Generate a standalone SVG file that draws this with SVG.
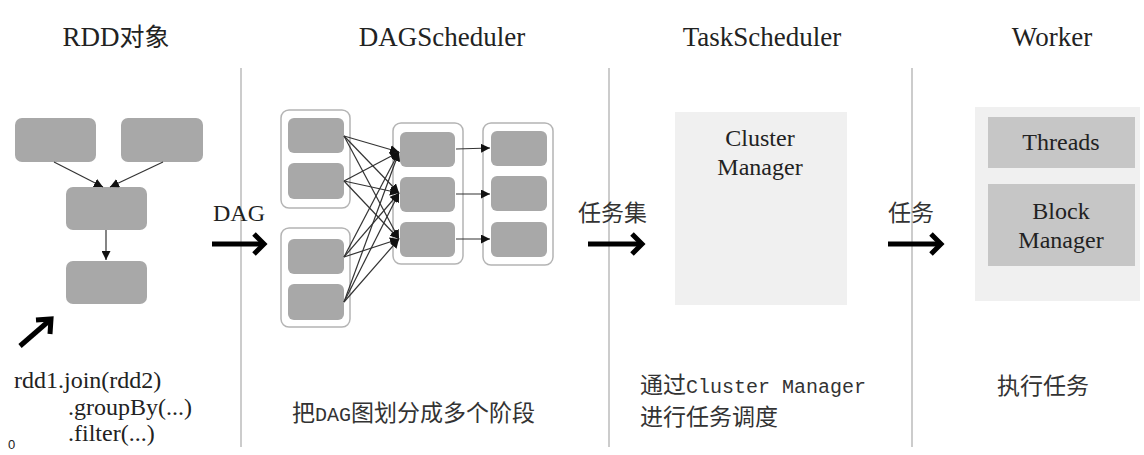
<svg xmlns="http://www.w3.org/2000/svg" width="1144" height="455" viewBox="0 0 1144 455">
<style>
.bg{fill:#ffffff}
.hdr{font-family:"Liberation Serif","Tinos","Times New Roman","DejaVu Serif",serif;font-size:27px;fill:#222;text-anchor:middle}
.hz{font-family:"Noto Sans CJK SC",sans-serif;font-size:25px}
.lbl{font-family:"Liberation Serif","Tinos","Times New Roman","DejaVu Serif",serif;font-size:24px;fill:#222}
.cjk{font-family:"Noto Sans CJK SC",sans-serif;font-size:23px;fill:#333}
.mono{font-family:"Liberation Mono","DejaVu Sans Mono",monospace;font-size:20px}
.div{stroke:#cccccc;stroke-width:2}
.rdd{fill:#a8a8a8}
.stage{fill:#ffffff;stroke:#b4b4b4;stroke-width:1.5}
.task{fill:#a8a8a8}
.edge{stroke:#333;stroke-width:1.2;fill:none}
.big{stroke:#000;stroke-width:5;fill:none;stroke-linecap:butt}
.chev{stroke:#000;stroke-width:5;fill:none;stroke-linejoin:miter}
.panel{fill:#f0f0f0}
.wbox{fill:#c6c6c6}
</style>
<defs>
<marker id="ah" viewBox="0 0 10 10" refX="10" refY="5" markerWidth="9" markerHeight="9" markerUnits="userSpaceOnUse" orient="auto">
<path d="M0,0 L10,5 L0,10 z" fill="#111"/>
</marker>
</defs>
<rect class="bg" x="0" y="0" width="1144" height="455"/>

<g id="dividers">
<line class="div" x1="241" y1="68" x2="241" y2="447"/>
<line class="div" x1="609" y1="68" x2="609" y2="447"/>
<line class="div" x1="912" y1="68" x2="912" y2="447"/>
</g>

<g id="headers">
<text class="hdr" x="116" y="46">RDD<tspan class="hz">对象</tspan></text>
<text class="hdr" x="442" y="46">DAGScheduler</text>
<text class="hdr" x="762" y="46">TaskScheduler</text>
<text class="hdr" x="1052" y="46">Worker</text>
</g>

<g id="rdd-objects">
<g id="rdd1"><rect class="rdd" x="15" y="118" width="81" height="44" rx="7"/></g>
<g id="rdd2"><rect class="rdd" x="121" y="118" width="82" height="44" rx="7"/></g>
<g id="rdd3"><rect class="rdd" x="66" y="187" width="81" height="43" rx="7"/></g>
<g id="rdd4"><rect class="rdd" x="66" y="261" width="81" height="43" rx="7"/></g>
</g>

<g id="code">
<text class="lbl" x="14" y="388">rdd1.join(rdd2)</text>
<text class="lbl" x="68" y="415">.groupBy(...)</text>
<text class="lbl" x="68" y="441">.filter(...)</text>
<text x="8" y="449" style="font-family:'Liberation Sans',sans-serif;font-size:13px;fill:#222">0</text>
</g>

<g id="dag-stages">
<g id="stage-a">
<rect class="stage" x="281" y="110" width="69" height="98" rx="8"/>
<rect class="task" x="288" y="118" width="56" height="35" rx="6"/>
<rect class="task" x="288" y="163" width="56" height="36" rx="6"/>
</g>
<g id="stage-b">
<rect class="stage" x="281" y="228" width="69" height="99" rx="8"/>
<rect class="task" x="288" y="239" width="56" height="35" rx="6"/>
<rect class="task" x="288" y="284" width="56" height="36" rx="6"/>
</g>
<g id="stage-c">
<rect class="stage" x="393" y="123" width="70" height="141" rx="8"/>
<rect class="task" x="400" y="132" width="55" height="35" rx="6"/>
<rect class="task" x="400" y="177" width="55" height="35" rx="6"/>
<rect class="task" x="400" y="222" width="55" height="35" rx="6"/>
</g>
<g id="stage-d">
<rect class="stage" x="483" y="123" width="70" height="142" rx="8"/>
<rect class="task" x="491" y="131" width="56" height="35" rx="6"/>
<rect class="task" x="491" y="176" width="56" height="35" rx="6"/>
<rect class="task" x="491" y="222" width="56" height="35" rx="6"/>
</g>
</g>

<g id="cluster-manager">
<rect class="panel" x="675" y="112" width="172" height="193"/>
<text class="lbl" x="760" y="146" text-anchor="middle">Cluster</text>
<text class="lbl" x="760" y="175" text-anchor="middle">Manager</text>
</g>

<g id="worker">
<rect class="panel" x="975" y="107" width="165" height="194"/>
<g id="threads">
<rect class="wbox" x="988" y="117" width="147" height="51"/>
<text class="lbl" x="1061" y="150" text-anchor="middle">Threads</text>
</g>
<g id="block-manager">
<rect class="wbox" x="988" y="184" width="147" height="82"/>
<text class="lbl" x="1061" y="219" text-anchor="middle">Block</text>
<text class="lbl" x="1061" y="248" text-anchor="middle">Manager</text>
</g>
</g>

<g id="connectors">
<line class="edge" x1="54" y1="162" x2="103" y2="187" marker-end="url(#ah)"/>
<line class="edge" x1="163" y1="162" x2="110" y2="187" marker-end="url(#ah)"/>
<line class="edge" x1="106" y1="230" x2="106" y2="260" marker-end="url(#ah)"/>

<line class="edge" x1="344" y1="136" x2="399" y2="152" marker-end="url(#ah)"/>
<line class="edge" x1="344" y1="136" x2="399" y2="193" marker-end="url(#ah)"/>
<line class="edge" x1="344" y1="136" x2="399" y2="239" marker-end="url(#ah)"/>
<line class="edge" x1="344" y1="181" x2="399" y2="152" marker-end="url(#ah)"/>
<line class="edge" x1="344" y1="181" x2="399" y2="193" marker-end="url(#ah)"/>
<line class="edge" x1="344" y1="181" x2="399" y2="239" marker-end="url(#ah)"/>
<line class="edge" x1="344" y1="257" x2="399" y2="152" marker-end="url(#ah)"/>
<line class="edge" x1="344" y1="257" x2="399" y2="193" marker-end="url(#ah)"/>
<line class="edge" x1="344" y1="257" x2="399" y2="239" marker-end="url(#ah)"/>
<line class="edge" x1="344" y1="302" x2="399" y2="152" marker-end="url(#ah)"/>
<line class="edge" x1="344" y1="302" x2="399" y2="193" marker-end="url(#ah)"/>
<line class="edge" x1="344" y1="302" x2="399" y2="239" marker-end="url(#ah)"/>

<line class="edge" x1="456" y1="149" x2="490" y2="148" marker-end="url(#ah)"/>
<line class="edge" x1="456" y1="194" x2="490" y2="194" marker-end="url(#ah)"/>
<line class="edge" x1="456" y1="239" x2="490" y2="239" marker-end="url(#ah)"/>

<g id="flow-arrows">
<line class="big" x1="20" y1="346" x2="50" y2="320"/>
<polyline class="chev" points="36,320 51,319 50,334"/>

<line class="big" x1="212" y1="244" x2="262" y2="244"/>
<polyline class="chev" points="254,234 264,244 254,254"/>

<line class="big" x1="588" y1="244" x2="640" y2="244"/>
<polyline class="chev" points="632,234 642,244 632,254"/>

<line class="big" x1="888" y1="244" x2="939" y2="244"/>
<polyline class="chev" points="931,234 941,244 931,254"/>
</g>
</g>

<g id="arrow-labels">
<text class="lbl" x="213" y="221">DAG</text>
<text class="cjk" x="578" y="221">任务集</text>
<text class="cjk" x="888" y="221">任务</text>
</g>

<g id="captions">
<text class="cjk" x="292" y="421" font-size="24">把<tspan class="mono">DAG</tspan>图划分成多个阶段</text>
<text class="cjk" x="640" y="393" font-size="21">通过<tspan class="mono">Cluster Manager</tspan></text>
<text class="cjk" x="640" y="425" font-size="21">进行任务调度</text>
<text class="cjk" x="1043" y="394" text-anchor="middle">执行任务</text>
</g>
</svg>
